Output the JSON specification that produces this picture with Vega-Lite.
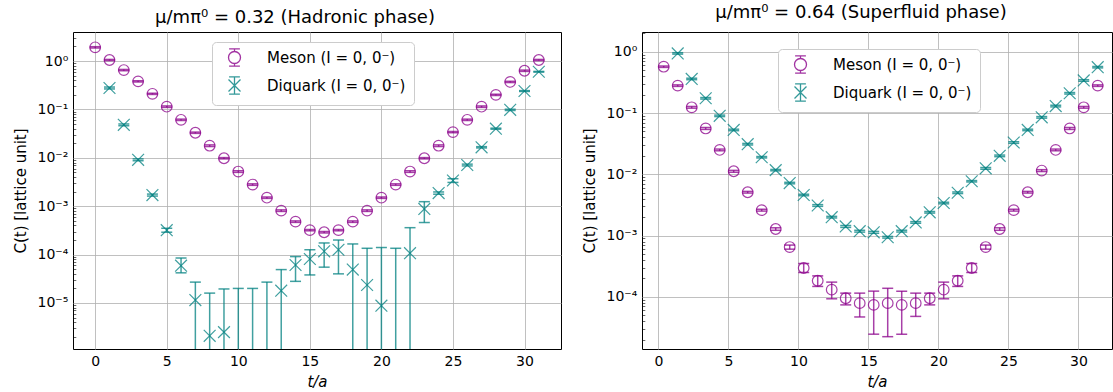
{
  "$schema": "https://vega.github.io/schema/vega-lite/v6.json",
  "padding": {"left": 13, "top": 3, "right": 0, "bottom": 0},
  "datasets": {
    "left": [
      {"t": 0, "series": "Meson", "C": 1.92, "lo": 1.86, "hi": 1.98},
      {"t": 1, "series": "Meson", "C": 1.05, "lo": 1.02, "hi": 1.08},
      {"t": 2, "series": "Meson", "C": 0.65, "lo": 0.63, "hi": 0.67},
      {"t": 3, "series": "Meson", "C": 0.38, "lo": 0.369, "hi": 0.391},
      {"t": 4, "series": "Meson", "C": 0.21, "lo": 0.204, "hi": 0.216},
      {"t": 5, "series": "Meson", "C": 0.114, "lo": 0.11, "hi": 0.118},
      {"t": 6, "series": "Meson", "C": 0.061, "lo": 0.059, "hi": 0.063},
      {"t": 7, "series": "Meson", "C": 0.033, "lo": 0.032, "hi": 0.034},
      {"t": 8, "series": "Meson", "C": 0.0178, "lo": 0.0171, "hi": 0.0185},
      {"t": 9, "series": "Meson", "C": 0.0098, "lo": 0.0095, "hi": 0.0101},
      {"t": 10, "series": "Meson", "C": 0.0052, "lo": 0.0050, "hi": 0.0054},
      {"t": 11, "series": "Meson", "C": 0.0028, "lo": 0.0027, "hi": 0.0029},
      {"t": 12, "series": "Meson", "C": 0.0015, "lo": 0.00145, "hi": 0.00155},
      {"t": 13, "series": "Meson", "C": 0.00081, "lo": 0.00078, "hi": 0.00084},
      {"t": 14, "series": "Meson", "C": 0.00048, "lo": 0.000463, "hi": 0.000497},
      {"t": 15, "series": "Meson", "C": 0.00032, "lo": 0.00031, "hi": 0.00033},
      {"t": 16, "series": "Meson", "C": 0.00029, "lo": 0.00028, "hi": 0.0003},
      {"t": 17, "series": "Meson", "C": 0.00032, "lo": 0.00031, "hi": 0.00033},
      {"t": 18, "series": "Meson", "C": 0.00048, "lo": 0.000463, "hi": 0.000497},
      {"t": 19, "series": "Meson", "C": 0.00081, "lo": 0.00078, "hi": 0.00084},
      {"t": 20, "series": "Meson", "C": 0.0015, "lo": 0.00145, "hi": 0.00155},
      {"t": 21, "series": "Meson", "C": 0.0028, "lo": 0.0027, "hi": 0.0029},
      {"t": 22, "series": "Meson", "C": 0.0052, "lo": 0.0050, "hi": 0.0054},
      {"t": 23, "series": "Meson", "C": 0.0098, "lo": 0.0095, "hi": 0.0101},
      {"t": 24, "series": "Meson", "C": 0.0178, "lo": 0.0171, "hi": 0.0185},
      {"t": 25, "series": "Meson", "C": 0.034, "lo": 0.033, "hi": 0.035},
      {"t": 26, "series": "Meson", "C": 0.061, "lo": 0.059, "hi": 0.063},
      {"t": 27, "series": "Meson", "C": 0.114, "lo": 0.11, "hi": 0.118},
      {"t": 28, "series": "Meson", "C": 0.2, "lo": 0.194, "hi": 0.206},
      {"t": 29, "series": "Meson", "C": 0.37, "lo": 0.359, "hi": 0.381},
      {"t": 30, "series": "Meson", "C": 0.63, "lo": 0.61, "hi": 0.65},
      {"t": 31, "series": "Meson", "C": 1.05, "lo": 1.02, "hi": 1.08},
      {"t": 1, "series": "Diquark", "C": 0.277, "lo": 0.265, "hi": 0.29},
      {"t": 2, "series": "Diquark", "C": 0.048, "lo": 0.046, "hi": 0.05},
      {"t": 3, "series": "Diquark", "C": 0.0091, "lo": 0.0087, "hi": 0.0095},
      {"t": 4, "series": "Diquark", "C": 0.0017, "lo": 0.00162, "hi": 0.00178},
      {"t": 5, "series": "Diquark", "C": 0.00032, "lo": 0.00029, "hi": 0.00035},
      {"t": 6, "series": "Diquark", "C": 5.9e-5, "lo": 4.2e-5, "hi": 8.5e-5},
      {"t": 7, "series": "Diquark", "C": 1.15e-5, "lo": 1e-8, "hi": 2.7e-5},
      {"t": 8, "series": "Diquark", "C": 2.1e-6, "lo": 1e-8, "hi": 1.6e-5},
      {"t": 9, "series": "Diquark", "C": 2.5e-6, "lo": 1e-8, "hi": 1.95e-5},
      {"t": 10, "series": "Diquark", "C": null, "lo": 1e-8, "hi": 2.0e-5},
      {"t": 11, "series": "Diquark", "C": null, "lo": 1e-8, "hi": 2.0e-5},
      {"t": 12, "series": "Diquark", "C": null, "lo": 1e-8, "hi": 2.7e-5},
      {"t": 13, "series": "Diquark", "C": 1.8e-5, "lo": 1e-8, "hi": 4.9e-5},
      {"t": 14, "series": "Diquark", "C": 6.1e-5, "lo": 2.8e-5, "hi": 9.1e-5},
      {"t": 15, "series": "Diquark", "C": 8.1e-5, "lo": 3.8e-5, "hi": 1.26e-4},
      {"t": 16, "series": "Diquark", "C": 1.17e-4, "lo": 5.5e-5, "hi": 1.74e-4},
      {"t": 17, "series": "Diquark", "C": 1.26e-4, "lo": 4.0e-5, "hi": 2.0e-4},
      {"t": 18, "series": "Diquark", "C": 4.9e-5, "lo": 1e-8, "hi": 1.66e-4},
      {"t": 19, "series": "Diquark", "C": 2.35e-5, "lo": 1e-8, "hi": 1.35e-4},
      {"t": 20, "series": "Diquark", "C": 8.8e-6, "lo": 1e-8, "hi": 1.4e-4},
      {"t": 21, "series": "Diquark", "C": null, "lo": 1e-8, "hi": 1.35e-4},
      {"t": 22, "series": "Diquark", "C": 1.07e-4, "lo": 1e-8, "hi": 3.6e-4},
      {"t": 23, "series": "Diquark", "C": 8.8e-4, "lo": 4.6e-4, "hi": 1.24e-3},
      {"t": 24, "series": "Diquark", "C": 0.00187, "lo": 0.00177, "hi": 0.00197},
      {"t": 25, "series": "Diquark", "C": 0.0034, "lo": 0.0031, "hi": 0.0037},
      {"t": 26, "series": "Diquark", "C": 0.0071, "lo": 0.0068, "hi": 0.0074},
      {"t": 27, "series": "Diquark", "C": 0.0165, "lo": 0.016, "hi": 0.017},
      {"t": 28, "series": "Diquark", "C": 0.04, "lo": 0.039, "hi": 0.041},
      {"t": 29, "series": "Diquark", "C": 0.098, "lo": 0.095, "hi": 0.101},
      {"t": 30, "series": "Diquark", "C": 0.24, "lo": 0.235, "hi": 0.245},
      {"t": 31, "series": "Diquark", "C": 0.6, "lo": 0.59, "hi": 0.61}
    ],
    "right": [
      {"t": 0.38, "series": "Meson", "C": 0.57, "lo": 0.555, "hi": 0.585},
      {"t": 1.38, "series": "Meson", "C": 0.28, "lo": 0.272, "hi": 0.288},
      {"t": 2.38, "series": "Meson", "C": 0.124, "lo": 0.12, "hi": 0.128},
      {"t": 3.38, "series": "Meson", "C": 0.056, "lo": 0.054, "hi": 0.058},
      {"t": 4.38, "series": "Meson", "C": 0.025, "lo": 0.0242, "hi": 0.0258},
      {"t": 5.38, "series": "Meson", "C": 0.0112, "lo": 0.0108, "hi": 0.0116},
      {"t": 6.38, "series": "Meson", "C": 0.0051, "lo": 0.00494, "hi": 0.00526},
      {"t": 7.38, "series": "Meson", "C": 0.0026, "lo": 0.00251, "hi": 0.00269},
      {"t": 8.38, "series": "Meson", "C": 0.00128, "lo": 0.00122, "hi": 0.00134},
      {"t": 9.38, "series": "Meson", "C": 0.00065, "lo": 0.0006, "hi": 0.0007},
      {"t": 10.38, "series": "Meson", "C": 0.000296, "lo": 0.00025, "hi": 0.00035},
      {"t": 11.38, "series": "Meson", "C": 0.000183, "lo": 0.000148, "hi": 0.00022},
      {"t": 12.38, "series": "Meson", "C": 0.000131, "lo": 9.3e-5, "hi": 0.000174},
      {"t": 13.38, "series": "Meson", "C": 9.5e-5, "lo": 7.4e-5, "hi": 0.000115},
      {"t": 14.38, "series": "Meson", "C": 7.9e-5, "lo": 4.7e-5, "hi": 0.000115},
      {"t": 15.38, "series": "Meson", "C": 7.4e-5, "lo": 2.46e-5, "hi": 0.000124},
      {"t": 16.38, "series": "Meson", "C": 7.9e-5, "lo": 2.24e-5, "hi": 0.000138},
      {"t": 17.38, "series": "Meson", "C": 7.4e-5, "lo": 2.46e-5, "hi": 0.000124},
      {"t": 18.38, "series": "Meson", "C": 7.9e-5, "lo": 4.8e-5, "hi": 0.000115},
      {"t": 19.38, "series": "Meson", "C": 9.5e-5, "lo": 7.4e-5, "hi": 0.000115},
      {"t": 20.38, "series": "Meson", "C": 0.000131, "lo": 9.3e-5, "hi": 0.000174},
      {"t": 21.38, "series": "Meson", "C": 0.000183, "lo": 0.000148, "hi": 0.00022},
      {"t": 22.38, "series": "Meson", "C": 0.000296, "lo": 0.00025, "hi": 0.00035},
      {"t": 23.38, "series": "Meson", "C": 0.00065, "lo": 0.0006, "hi": 0.0007},
      {"t": 24.38, "series": "Meson", "C": 0.00128, "lo": 0.00122, "hi": 0.00134},
      {"t": 25.38, "series": "Meson", "C": 0.0026, "lo": 0.00251, "hi": 0.00269},
      {"t": 26.38, "series": "Meson", "C": 0.0051, "lo": 0.00494, "hi": 0.00526},
      {"t": 27.38, "series": "Meson", "C": 0.0115, "lo": 0.0111, "hi": 0.0119},
      {"t": 28.38, "series": "Meson", "C": 0.025, "lo": 0.0242, "hi": 0.0258},
      {"t": 29.38, "series": "Meson", "C": 0.056, "lo": 0.054, "hi": 0.058},
      {"t": 30.38, "series": "Meson", "C": 0.124, "lo": 0.12, "hi": 0.128},
      {"t": 31.38, "series": "Meson", "C": 0.28, "lo": 0.272, "hi": 0.288},
      {"t": 1.38, "series": "Diquark", "C": 0.94, "lo": 0.915, "hi": 0.965},
      {"t": 2.38, "series": "Diquark", "C": 0.36, "lo": 0.35, "hi": 0.37},
      {"t": 3.38, "series": "Diquark", "C": 0.174, "lo": 0.169, "hi": 0.179},
      {"t": 4.38, "series": "Diquark", "C": 0.09, "lo": 0.0875, "hi": 0.0925},
      {"t": 5.38, "series": "Diquark", "C": 0.053, "lo": 0.0515, "hi": 0.0545},
      {"t": 6.38, "series": "Diquark", "C": 0.031, "lo": 0.0301, "hi": 0.0319},
      {"t": 7.38, "series": "Diquark", "C": 0.019, "lo": 0.0185, "hi": 0.0195},
      {"t": 8.38, "series": "Diquark", "C": 0.0117, "lo": 0.0114, "hi": 0.012},
      {"t": 9.38, "series": "Diquark", "C": 0.0072, "lo": 0.007, "hi": 0.0074},
      {"t": 10.38, "series": "Diquark", "C": 0.0046, "lo": 0.00447, "hi": 0.00473},
      {"t": 11.38, "series": "Diquark", "C": 0.0031, "lo": 0.003, "hi": 0.0032},
      {"t": 12.38, "series": "Diquark", "C": 0.002, "lo": 0.00194, "hi": 0.00206},
      {"t": 13.38, "series": "Diquark", "C": 0.00141, "lo": 0.00136, "hi": 0.00146},
      {"t": 14.38, "series": "Diquark", "C": 0.00118, "lo": 0.00114, "hi": 0.00122},
      {"t": 15.38, "series": "Diquark", "C": 0.00113, "lo": 0.00109, "hi": 0.00117},
      {"t": 16.38, "series": "Diquark", "C": 0.00094, "lo": 0.00091, "hi": 0.00097},
      {"t": 17.38, "series": "Diquark", "C": 0.00118, "lo": 0.00114, "hi": 0.00122},
      {"t": 18.38, "series": "Diquark", "C": 0.00164, "lo": 0.00159, "hi": 0.00169},
      {"t": 19.38, "series": "Diquark", "C": 0.0024, "lo": 0.00233, "hi": 0.00247},
      {"t": 20.38, "series": "Diquark", "C": 0.0034, "lo": 0.0033, "hi": 0.0035},
      {"t": 21.38, "series": "Diquark", "C": 0.005, "lo": 0.00485, "hi": 0.00515},
      {"t": 22.38, "series": "Diquark", "C": 0.0077, "lo": 0.0075, "hi": 0.0079},
      {"t": 23.38, "series": "Diquark", "C": 0.0125, "lo": 0.0121, "hi": 0.0129},
      {"t": 24.38, "series": "Diquark", "C": 0.02, "lo": 0.0194, "hi": 0.0206},
      {"t": 25.38, "series": "Diquark", "C": 0.033, "lo": 0.032, "hi": 0.034},
      {"t": 26.38, "series": "Diquark", "C": 0.053, "lo": 0.0515, "hi": 0.0545},
      {"t": 27.38, "series": "Diquark", "C": 0.085, "lo": 0.0825, "hi": 0.0875},
      {"t": 28.38, "series": "Diquark", "C": 0.13, "lo": 0.126, "hi": 0.134},
      {"t": 29.38, "series": "Diquark", "C": 0.21, "lo": 0.204, "hi": 0.216},
      {"t": 30.38, "series": "Diquark", "C": 0.34, "lo": 0.33, "hi": 0.35},
      {"t": 31.38, "series": "Diquark", "C": 0.56, "lo": 0.545, "hi": 0.575}
    ]
  },
  "hconcat": [
    {
      "width": 488,
      "height": 317,
      "data": {"name": "left"},
      "title": {"text": "μ/mπ⁰ = 0.32 (Hadronic phase)", "anchor": "middle", "frame": "group", "dx": -22, "offset": 4},
      "encoding": {
        "x": {"field": "t", "type": "quantitative", "scale": {"domain": [-1.55, 32.55], "nice": false, "zero": false},
          "axis": {"values": [0, 5, 10, 15, 20, 25, 30], "title": "t/a", "titleFontStyle": "italic", "ticks": false, "labelPadding": 5, "titlePadding": 6}}
      },
      "layer": [
        {
          "mark": {"type": "rule", "strokeWidth": 1.5, "opacity": 0.75, "clip": true},
          "encoding": {
            "y": {"field": "lo", "type": "quantitative", "scale": {"type": "log", "domain": [1.12e-6, 3.98], "nice": false},
              "axis": {
                "title": "C(t) [lattice unit]",
                "values": [1e-5, 1e-4, 0.001, 0.01, 0.1, 1, 2e-6, 3e-6, 4e-6, 5e-6, 6e-6, 7e-6, 8e-6, 9e-6, 2e-5, 3e-5, 4e-5, 5e-5, 6e-5, 7e-5, 8e-5, 9e-5, 2e-4, 3e-4, 4e-4, 5e-4, 6e-4, 7e-4, 8e-4, 9e-4, 0.002, 0.003, 0.004, 0.005, 0.006, 0.007, 0.008, 0.009, 0.02, 0.03, 0.04, 0.05, 0.06, 0.07, 0.08, 0.09, 0.2, 0.3, 0.4, 0.5, 0.6, 0.7, 0.8, 0.9, 2, 3],
                "labelExpr": "abs(log(datum.value)/LN10 - round(log(datum.value)/LN10)) < 1e-6 ? '10' + ['⁰','⁻¹','⁻²','⁻³','⁻⁴','⁻⁵','⁻⁶'][-round(log(datum.value)/LN10)] : ''",
                "gridOpacity": {"condition": {"test": "abs(log(datum.value)/LN10 - round(log(datum.value)/LN10)) < 1e-6", "value": 1}, "value": 0},
                "tickOpacity": {"condition": {"test": "abs(log(datum.value)/LN10 - round(log(datum.value)/LN10)) < 1e-6", "value": 0}, "value": 1},
                "tickSize": -2.8, "tickWidth": 0.6, "labelPadding": 8, "titlePadding": 8, "labelOverlap": false, "labelBound": false
              }},
            "y2": {"field": "hi"},
            "color": {"field": "series", "type": "nominal", "scale": {"domain": ["Meson", "Diquark"], "range": ["#8b008b", "#008080"]}, "legend": null}
          }
        },
        {
          "mark": {"type": "tick", "orient": "horizontal", "size": 11, "thickness": 1.5, "opacity": 0.75, "clip": true},
          "encoding": {"y": {"field": "hi", "type": "quantitative"}, "color": {"field": "series", "type": "nominal", "legend": null}}
        },
        {
          "mark": {"type": "tick", "orient": "horizontal", "size": 11, "thickness": 1.5, "opacity": 0.75, "clip": true},
          "encoding": {"y": {"field": "lo", "type": "quantitative"}, "color": {"field": "series", "type": "nominal", "legend": null}}
        },
        {
          "transform": [{"filter": "datum.series === 'Meson'"}],
          "mark": {"type": "point", "shape": "circle", "size": 113, "filled": false, "stroke": "#8b008b", "strokeWidth": 1.2, "opacity": 0.75, "clip": true},
          "encoding": {"y": {"field": "C", "type": "quantitative"}}
        },
        {
          "transform": [{"filter": "datum.series === 'Diquark'"}],
          "mark": {"type": "point", "shape": "M-1,-1L1,1M-1,1L1,-1", "size": 140, "filled": false, "stroke": "#008080", "strokeWidth": 1.2, "opacity": 0.75, "clip": true},
          "encoding": {"y": {"field": "C", "type": "quantitative"}}
        },
        {
          "mark": {"type": "point", "filled": false, "opacity": 0, "clip": true},
          "encoding": {
            "y": {"field": "hi", "type": "quantitative"},
            "shape": {"field": "series", "type": "nominal",
              "scale": {"domain": ["Meson", "Diquark"], "range": ["M-1,0A1,1,0,1,1,1,0A1,1,0,1,1,-1,0M0,-1L0,-1.45M0,1L0,1.45M-0.9,-1.45L0.9,-1.45M-0.9,1.45L0.9,1.45", "M-1,-1L1,1M-1,1L1,-1M0,-1.45L0,1.45M-0.9,-1.45L0.9,-1.45M-0.9,1.45L0.9,1.45"]},
              "legend": {
                "orient": "none", "legendX": 139, "legendY": 10, "title": null,
                "labelExpr": "datum.label + ' (I = 0, 0⁻)'",
                "labelFontSize": 15, "labelColor": "#000", "labelLimit": 300,
                "symbolSize": 144, "symbolOpacity": 0.8, "symbolStrokeWidth": 1.3, "symbolOffset": 7, "labelOffset": 25,
                "rowPadding": 5, "padding": 8, "fillColor": "white", "strokeColor": "#cccccc", "cornerRadius": 4
              }},
            "stroke": {"field": "series", "type": "nominal",
              "scale": {"domain": ["Meson", "Diquark"], "range": ["#8b008b", "#008080"]},
              "legend": {
                "orient": "none", "legendX": 139, "legendY": 10, "title": null,
                "labelExpr": "datum.label + ' (I = 0, 0⁻)'",
                "labelFontSize": 15, "labelColor": "#000", "labelLimit": 300,
                "symbolSize": 144, "symbolOpacity": 0.8, "symbolStrokeWidth": 1.3, "symbolOffset": 7, "labelOffset": 25,
                "rowPadding": 5, "padding": 8, "fillColor": "white", "strokeColor": "#cccccc", "cornerRadius": 4
              }}
          }
        }
      ],
      "resolve": {"scale": {"shape": "independent", "stroke": "independent"}}
    },
    {
      "width": 470,
      "height": 317,
      "data": {"name": "right"},
      "title": {"text": "μ/mπ⁰ = 0.64 (Superfluid phase)", "anchor": "middle", "frame": "group", "dx": -16, "offset": 4},
      "encoding": {
        "x": {"field": "t", "type": "quantitative", "scale": {"domain": [-1.17, 32.4], "nice": false, "zero": false},
          "axis": {"values": [0, 5, 10, 15, 20, 25, 30], "title": "t/a", "titleFontStyle": "italic", "ticks": false, "labelPadding": 5, "titlePadding": 6}}
      },
      "layer": [
        {
          "mark": {"type": "rule", "strokeWidth": 1.5, "opacity": 0.75, "clip": true},
          "encoding": {
            "y": {"field": "lo", "type": "quantitative", "scale": {"type": "log", "domain": [1.41e-5, 2.1], "nice": false},
              "axis": {
                "title": "C(t) [lattice unit]",
                "values": [1e-4, 0.001, 0.01, 0.1, 1, 2e-5, 3e-5, 4e-5, 5e-5, 6e-5, 7e-5, 8e-5, 9e-5, 2e-4, 3e-4, 4e-4, 5e-4, 6e-4, 7e-4, 8e-4, 9e-4, 0.002, 0.003, 0.004, 0.005, 0.006, 0.007, 0.008, 0.009, 0.02, 0.03, 0.04, 0.05, 0.06, 0.07, 0.08, 0.09, 0.2, 0.3, 0.4, 0.5, 0.6, 0.7, 0.8, 0.9, 2],
                "labelExpr": "abs(log(datum.value)/LN10 - round(log(datum.value)/LN10)) < 1e-6 ? '10' + ['⁰','⁻¹','⁻²','⁻³','⁻⁴','⁻⁵','⁻⁶'][-round(log(datum.value)/LN10)] : ''",
                "gridOpacity": {"condition": {"test": "abs(log(datum.value)/LN10 - round(log(datum.value)/LN10)) < 1e-6", "value": 1}, "value": 0},
                "tickOpacity": {"condition": {"test": "abs(log(datum.value)/LN10 - round(log(datum.value)/LN10)) < 1e-6", "value": 0}, "value": 1},
                "tickSize": -2.8, "tickWidth": 0.6, "labelPadding": 8, "titlePadding": 8, "labelOverlap": false, "labelBound": false
              }},
            "y2": {"field": "hi"},
            "color": {"field": "series", "type": "nominal", "scale": {"domain": ["Meson", "Diquark"], "range": ["#8b008b", "#008080"]}, "legend": null}
          }
        },
        {
          "mark": {"type": "tick", "orient": "horizontal", "size": 11, "thickness": 1.5, "opacity": 0.75, "clip": true},
          "encoding": {"y": {"field": "hi", "type": "quantitative"}, "color": {"field": "series", "type": "nominal", "legend": null}}
        },
        {
          "mark": {"type": "tick", "orient": "horizontal", "size": 11, "thickness": 1.5, "opacity": 0.75, "clip": true},
          "encoding": {"y": {"field": "lo", "type": "quantitative"}, "color": {"field": "series", "type": "nominal", "legend": null}}
        },
        {
          "transform": [{"filter": "datum.series === 'Meson'"}],
          "mark": {"type": "point", "shape": "circle", "size": 113, "filled": false, "stroke": "#8b008b", "strokeWidth": 1.2, "opacity": 0.75, "clip": true},
          "encoding": {"y": {"field": "C", "type": "quantitative"}}
        },
        {
          "transform": [{"filter": "datum.series === 'Diquark'"}],
          "mark": {"type": "point", "shape": "M-1,-1L1,1M-1,1L1,-1", "size": 140, "filled": false, "stroke": "#008080", "strokeWidth": 1.2, "opacity": 0.75, "clip": true},
          "encoding": {"y": {"field": "C", "type": "quantitative"}}
        },
        {
          "mark": {"type": "point", "filled": false, "opacity": 0, "clip": true},
          "encoding": {
            "y": {"field": "hi", "type": "quantitative"},
            "shape": {"field": "series", "type": "nominal",
              "scale": {"domain": ["Meson", "Diquark"], "range": ["M-1,0A1,1,0,1,1,1,0A1,1,0,1,1,-1,0M0,-1L0,-1.45M0,1L0,1.45M-0.9,-1.45L0.9,-1.45M-0.9,1.45L0.9,1.45", "M-1,-1L1,1M-1,1L1,-1M0,-1.45L0,1.45M-0.9,-1.45L0.9,-1.45M-0.9,1.45L0.9,1.45"]},
              "legend": {
                "orient": "none", "legendX": 136, "legendY": 17, "title": null,
                "labelExpr": "datum.label + ' (I = 0, 0⁻)'",
                "labelFontSize": 15, "labelColor": "#000", "labelLimit": 300,
                "symbolSize": 144, "symbolOpacity": 0.8, "symbolStrokeWidth": 1.3, "symbolOffset": 7, "labelOffset": 25,
                "rowPadding": 5, "padding": 8, "fillColor": "white", "strokeColor": "#cccccc", "cornerRadius": 4
              }},
            "stroke": {"field": "series", "type": "nominal",
              "scale": {"domain": ["Meson", "Diquark"], "range": ["#8b008b", "#008080"]},
              "legend": {
                "orient": "none", "legendX": 136, "legendY": 17, "title": null,
                "labelExpr": "datum.label + ' (I = 0, 0⁻)'",
                "labelFontSize": 15, "labelColor": "#000", "labelLimit": 300,
                "symbolSize": 144, "symbolOpacity": 0.8, "symbolStrokeWidth": 1.3, "symbolOffset": 7, "labelOffset": 25,
                "rowPadding": 5, "padding": 8, "fillColor": "white", "strokeColor": "#cccccc", "cornerRadius": 4
              }}
          }
        }
      ],
      "resolve": {"scale": {"shape": "independent", "stroke": "independent"}}
    }
  ],
  "config": {
    "font": "DejaVu Sans",
    "view": {"stroke": "#000000", "strokeWidth": 1},
    "concat": {"spacing": 20},
    "title": {"fontSize": 18, "fontWeight": "normal", "color": "#000", "font": "DejaVu Sans"},
    "axis": {"domain": false, "grid": true, "gridColor": "#b0b0b0", "gridWidth": 0.8, "labelFontSize": 14, "labelColor": "#000", "titleFontSize": 15, "titleFontWeight": "normal", "titleColor": "#000", "tickColor": "#000", "labelFont": "DejaVu Sans", "titleFont": "DejaVu Sans"},
    "legend": {"labelFont": "DejaVu Sans"}
  }
}
